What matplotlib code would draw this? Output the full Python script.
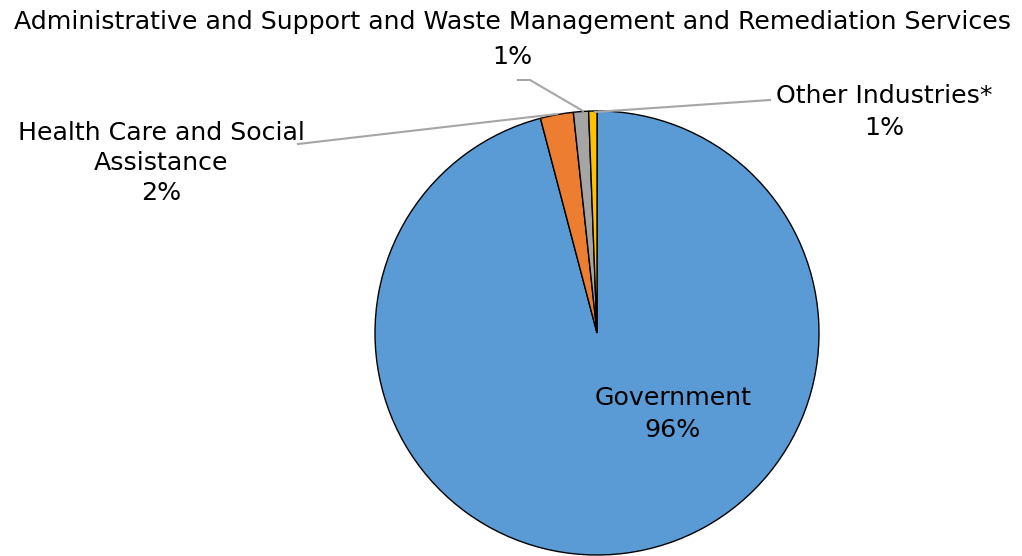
import matplotlib.pyplot as plt

# industry shares (%)
industries = ['Government', 'Health Care and Social\nAssistance',
              'Administrative and Support and Waste Management and Remediation Services',
              'Other Industries*']
shares = [95.9, 2.4, 1.1, 0.6]
pct_labels = ['96%', '2%', '1%', '1%']
colors = ['#5B9BD5', '#ED7D31', '#A5A5A5', '#FFC000']

W, H = 1022, 556
fig = plt.figure(figsize=(W / 100, H / 100), dpi=100)
ax = fig.add_axes([0, 0, 1, 1])

## pie, centre and radius in pixel units (y up)
cx, cy, r = 597, H - 333, 222
ax.pie(shares, colors=colors, startangle=90, counterclock=False,
       center=(cx, cy), radius=r, frame=True,
       wedgeprops=dict(edgecolor='black', linewidth=1.0))
ax.set_xlim(0, W)
ax.set_ylim(0, H)
ax.axis('off')

def py(y):
    return H - y

fs = 18.2
font = 'DejaVu Sans'
lc = '#A6A6A6'

## leader lines
ax.plot([518, 530, 583], [py(80), py(80), py(111)], color=lc, lw=1.5)
ax.plot([298, 557], [py(144), py(114)], color=lc, lw=1.5)
ax.plot([770, 595], [py(100), py(112)], color=lc, lw=1.5)

## labels
ax.text(512, py(22), industries[2], ha='center', va='center', fontsize=fs, family=font)
ax.text(512, py(57), pct_labels[2], ha='center', va='center', fontsize=fs, family=font)
ax.text(161, py(163), industries[1] + '\n' + pct_labels[1], ha='center', va='center',
        fontsize=fs, family=font, linespacing=1.33)
ax.text(884, py(112), industries[3] + '\n' + pct_labels[3], ha='center', va='center',
        fontsize=fs, family=font, linespacing=1.38)
ax.text(673, py(414), industries[0] + '\n' + pct_labels[0], ha='center', va='center',
        fontsize=fs, family=font, linespacing=1.38)

fig.savefig('out.png', dpi=100)
